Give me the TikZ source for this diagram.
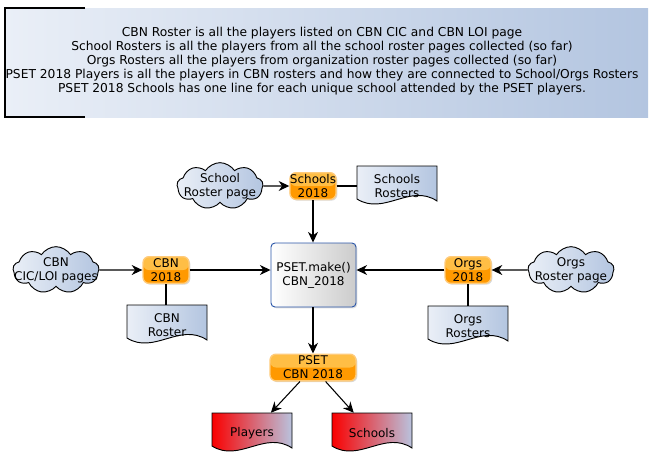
\documentclass[tikz,border=0pt]{standalone}
\usepackage{fontspec}
\setmainfont{DejaVu Sans}
\usetikzlibrary{shapes.symbols,shadows,arrows.meta,calc}

\definecolor{notel}{HTML}{EAEFF7}
\definecolor{noter}{HTML}{B3C5E0}
\definecolor{makeedge}{HTML}{2A55A8}
\definecolor{orangefill}{HTML}{FF9900}
\definecolor{orangetop}{HTML}{FFBE45}
\definecolor{orangeedge}{HTML}{FFCB7A}
\definecolor{docred}{HTML}{FA0000}
\definecolor{docblue}{HTML}{B9C3DE}

\tikzset{
  cloudnode/.style={cloud, cloud puffs=9, cloud puff arc=115, draw=black,
    line width=0.7pt, left color=notel, right color=noter,
    minimum width=64.5pt, minimum height=35pt,
    inner xsep=-22pt, inner ysep=-8pt, align=center},
  orangebox/.style={rectangle, rounded corners=4.5pt, draw=orangeedge,
    line width=1pt, fill=orangefill, minimum width=34.5pt,
    minimum height=20pt, inner sep=0pt, align=center,
    drop shadow={shadow xshift=1pt, shadow yshift=-1pt, opacity=0.3},
    path picture={\fill[orangetop] (path picture bounding box.north west)
      rectangle (path picture bounding box.east);}},
  makebox/.style={rectangle, rounded corners=3pt, draw=makeedge,
    line width=0.7pt, left color=white, right color=black!20,
    minimum width=63.75pt, minimum height=48pt, align=center,
    drop shadow={shadow xshift=1pt, shadow yshift=-1pt, opacity=0.25}},
  docstyle/.style={rectangle, minimum width=60pt, minimum height=30pt,
    inner sep=0pt, align=center},
  arr/.style={-{Stealth[length=8pt,width=7.5pt]}, line width=0.8pt},
  link/.style={line width=0.8pt}
}

% document shape: name, x, y, text, left colour, right colour
\newcommand{\docnode}[6]{%
  \shade[draw=black, line width=0.7pt, left color=#5, right color=#6]
    ($(#2,#3)+(-40,-20)$) -- ($(#2,#3)+(40,-20)$) -- ($(#2,#3)+(40,15)$)
    .. controls ($(#2,#3)+(13,-3)$) and ($(#2,#3)+(-13,30)$) .. ($(#2,#3)+(-40,13)$)
    -- cycle;
  \node[docstyle] (#1) at (#2,#3) {#4};
}

\begin{document}
\begin{tikzpicture}[x=0.75pt, y=-0.75pt, font=\fontsize{9}{10.5}\selectfont]
  \useasboundingbox (0,0) rectangle (654,461);

  % note
  \shade[left color=notel, right color=noter] (5,8) rectangle (648,117);
  \draw[line width=0.8pt] (85,8) -- (5,8) -- (5,117) -- (85,117);
  \node[align=center, font=\fontsize{9.2}{10.5}\selectfont] (note) at (322,61) {CBN Roster is all the players listed on CBN CIC and CBN LOI page\\
    School Rosters is all the players from all the school roster pages collected (so far)\\
    Orgs Rosters all the players from organization roster pages collected (so far)\\
    PSET 2018 Players is all the players in CBN rosters and how they are connected to School/Orgs Rosters\\
    PSET 2018 Schools has one line for each unique school attended by the PSET players.};

  % sources
  \node[cloudnode] (schoolcloud) at (220,186) {School\\Roster page};
  \node[cloudnode] (cbncloud) at (56,270) {CBN\\CIC/LOI pages};
  \node[cloudnode] (orgscloud) at (571,270) {Orgs\\Roster page};

  % rosters
  \docnode{schoolsdoc}{397}{186}{Schools\\Rosters}{notel}{noter}
  \docnode{cbndoc}{167}{325}{CBN\\Roster}{notel}{noter}
  \docnode{orgsdoc}{468}{326}{Orgs\\Rosters}{notel}{noter}
  \docnode{playersdoc}{252}{433}{Players}{docred}{docblue}
  \docnode{schoolsout}{372}{433}{Schools}{docred}{docblue}

  % tables
  \node[orangebox] (schools18) at (313,186) {Schools\\2018};
  \node[orangebox] (cbn18) at (166,270) {CBN\\2018};
  \node[orangebox] (orgs18) at (468,270) {Orgs\\2018};
  \node[makebox] (make) at (313.5,275) {PSET.make()\\CBN\_2018};
  \node[orangebox, minimum width=64.5pt] (pset) at (313,367.5) {PSET\\CBN 2018};

  \draw[arr] (schoolcloud) -- (schools18);
  \draw[link] (schools18) -- (schoolsdoc);
  \draw[arr] (schools18) -- (schools18 |- make.north);
  \draw[arr] (cbncloud) -- (cbn18);
  \draw[link] (cbn18) -- (cbn18 |- cbndoc.north);
  \draw[arr] (cbn18) -- (cbn18 -| make.west);
  \draw[arr] (orgscloud) -- (orgs18);
  \draw[link] (orgs18) -- (orgsdoc);
  \draw[arr] (orgs18) -- (orgs18 -| make.east);
  \draw[arr] (pset |- make.south) -- (pset);
  \draw[arr] (pset) -- (playersdoc);
  \draw[arr] (pset) -- (schoolsout);
\end{tikzpicture}
\end{document}
